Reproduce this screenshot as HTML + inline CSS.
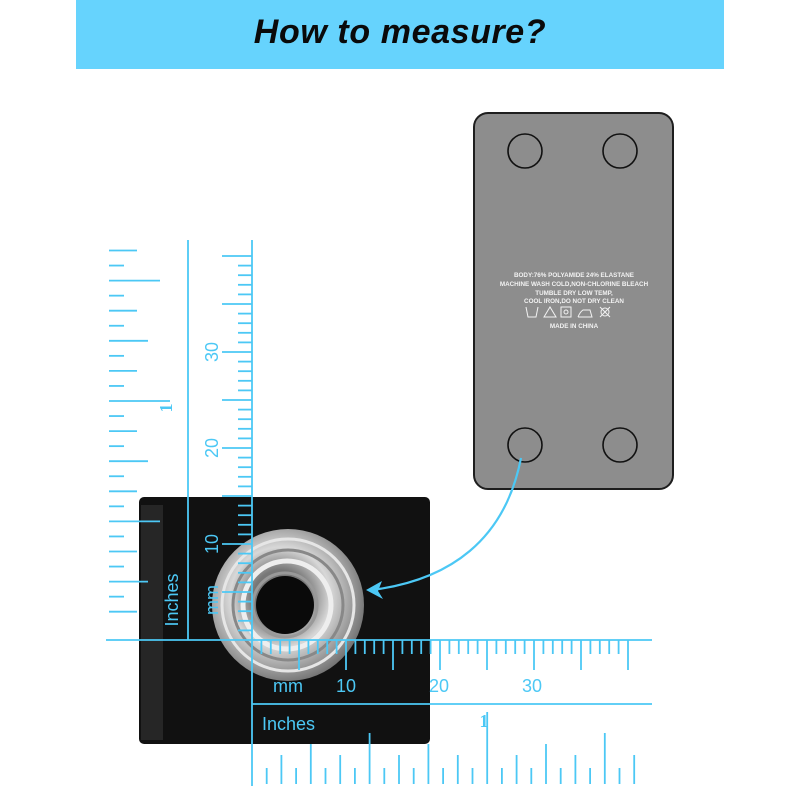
<!DOCTYPE html>
<html><head><meta charset="utf-8"><style>
html,body{margin:0;padding:0;background:#fff;width:800px;height:800px;overflow:hidden}
</style></head><body>
<svg id="s" width="800" height="800" xmlns="http://www.w3.org/2000/svg" font-family="Liberation Sans, sans-serif">
<rect x="0" y="0" width="800" height="800" fill="#fff"/>
<rect x="76" y="0" width="648" height="69" fill="#66d3fd"/>
<text x="400" y="43" text-anchor="middle" font-size="34" font-weight="bold" font-style="italic" letter-spacing="0.6" fill="#0a0a0a">How to measure?</text>
<rect x="474" y="113" width="199" height="376" rx="14" fill="#8d8d8d" stroke="#1e1e1e" stroke-width="2"/>
<g fill="none" stroke="#111" stroke-width="1.6">
<circle cx="525" cy="151" r="17"/><circle cx="620" cy="151" r="17"/>
<circle cx="525" cy="445" r="17"/><circle cx="620" cy="445" r="17"/>
</g>
<g fill="#f2f2f2" font-size="6.3" text-anchor="middle" font-weight="bold">
<text x="574" y="277">BODY:76% POLYAMIDE 24% ELASTANE</text>
<text x="574" y="286">MACHINE WASH COLD,NON-CHLORINE BLEACH</text>
<text x="574" y="295">TUMBLE DRY LOW TEMP,</text>
<text x="574" y="303">COOL IRON,DO NOT DRY CLEAN</text>
<text x="574" y="328">MADE IN CHINA</text>
</g>
<g fill="none" stroke="#f2f2f2" stroke-width="1">
<path d="M526,307 L528,317 L536,317 L538,307"/>
<path d="M544,317 L550,307 L556,317 Z"/>
<rect x="561" y="307" width="10" height="10"/><circle cx="566" cy="312" r="2"/>
<path d="M578,317 L592,317 L590,310 L583,310 Q580,312 578,317"/>
<circle cx="605" cy="312" r="4"/><path d="M600,307 L610,317 M610,307 L600,317"/>
</g>
<rect x="139" y="497" width="291" height="247" rx="5" fill="#111"/>
<rect x="141" y="505" width="22" height="235" fill="#262626"/>
<defs><radialGradient id="g" cx="0.45" cy="0.45" r="0.6">
<stop offset="0.3" stop-color="#777"/><stop offset="0.55" stop-color="#d8d8d8"/><stop offset="0.8" stop-color="#999"/><stop offset="1" stop-color="#666"/></radialGradient></defs>
<circle cx="288" cy="605" r="76" fill="url(#g)"/>
<circle cx="288" cy="605" r="66" fill="none" stroke="#e6e6e6" stroke-width="3"/>
<circle cx="288" cy="605" r="55" fill="none" stroke="#888" stroke-width="3"/>
<circle cx="287" cy="605" r="44" fill="none" stroke="#eee" stroke-width="5"/>
<circle cx="285" cy="605" r="32" fill="none" stroke="#999" stroke-width="3"/>
<circle cx="285" cy="605" r="29" fill="#0a0a0a"/>
<path d="M521,458 C505,540 450,580 372,590" fill="none" stroke="#4cc8f5" stroke-width="2.2"/>
<path d="M366,590 L382,581 L378,591 L383,599 Z" fill="#4cc8f5"/>
<g id="r" stroke="#4cc8f5" stroke-width="1.8"></g>
<g fill="#4cc8f5" font-size="18">
<text x="346" y="692" text-anchor="middle">10</text>
<text x="439" y="692" text-anchor="middle">20</text>
<text x="532" y="692" text-anchor="middle">30</text>
<text x="288" y="692" text-anchor="middle">mm</text>
<text x="262" y="730">Inches</text>
<text x="484" y="727" text-anchor="middle" font-family="Liberation Serif, serif" font-weight="bold">1</text>
<text transform="translate(218,544) rotate(-90)" text-anchor="middle">10</text>
<text transform="translate(218,448) rotate(-90)" text-anchor="middle">20</text>
<text transform="translate(218,352) rotate(-90)" text-anchor="middle">30</text>
<text transform="translate(218,600) rotate(-90)" text-anchor="middle">mm</text>
<text transform="translate(178,600) rotate(-90)" text-anchor="middle">Inches</text>
<text transform="translate(172,408) rotate(-90)" text-anchor="middle" font-family="Liberation Serif, serif" font-weight="bold">1</text>
</g>
</svg>
<script>
var g=document.getElementById('r'),h='';
function L(a,b,c,d){h+='<line x1="'+a+'" y1="'+b+'" x2="'+c+'" y2="'+d+'"/>';}
L(252,240,252,786);L(188,240,188,640);L(106,640,652,640);L(252,704,652,704);
for(var i=1;i<=40;i++){var y=640-i*9.6;L(i%5==0?222:238,y,252,y);}
for(var i=1;i<=40;i++){var x=252+i*9.4;L(x,640,x,i%5==0?670:654);}
for(var i=-10;i<=14;i++){var y=401+i*15.05;var k=Math.abs(i);var len=k==0?61:k==8?51:k%4==0?39:k%2==0?28:15;L(109,y,109+len,y);}
for(var i=1;i<=26;i++){var x=252+i*14.7;var t=i%16==0?712:i%8==0?733:i%4==0?744:i%2==0?755:768;L(x,t,x,784);}
g.innerHTML=h;
</script>
</body></html>
